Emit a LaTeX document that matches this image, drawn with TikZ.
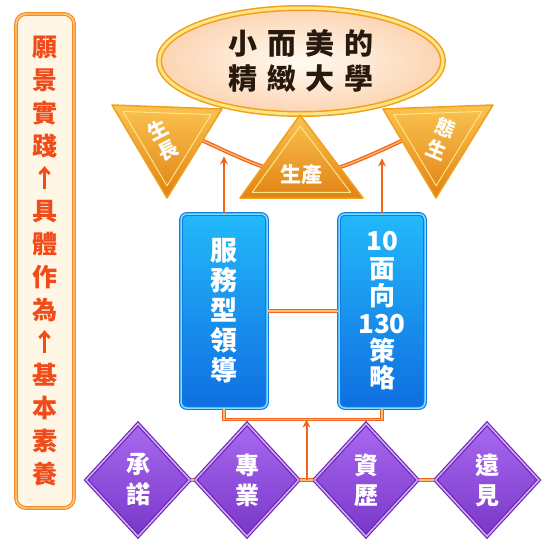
\documentclass[tikz,border=0pt]{standalone}
\usepackage{fontspec}
\setmainfont{Noto Sans CJK TC}
\newfontfamily\titlefont{Noto Sans CJK TC}[LetterSpace=34]
\usepackage{tikz}
\usetikzlibrary{positioning,calc,shapes.geometric,arrows.meta}
\definecolor{visionRed}{RGB}{240,75,25}
\definecolor{visionFill}{RGB}{255,246,230}
\definecolor{visionEdge}{RGB}{245,140,40}
\definecolor{visionLight}{RGB}{255,205,130}
\definecolor{titleIn}{RGB}{255,251,242}
\definecolor{titleOut}{RGB}{252,212,178}
\definecolor{titleText}{RGB}{40,25,15}
\definecolor{goldEdge}{RGB}{240,160,30}
\definecolor{goldLight}{RGB}{255,228,130}
\definecolor{goldTop}{RGB}{250,195,80}
\definecolor{goldBot}{RGB}{225,130,20}
\definecolor{blueTop}{RGB}{35,185,250}
\definecolor{blueBot}{RGB}{15,110,225}
\definecolor{blueEdge}{RGB}{20,120,230}
\definecolor{blueLight}{RGB}{120,225,255}
\definecolor{purpleTop}{RGB}{170,105,240}
\definecolor{purpleBot}{RGB}{120,55,200}
\definecolor{purpleEdge}{RGB}{105,40,175}
\definecolor{purpleLight}{RGB}{215,170,255}
\definecolor{linkOrange}{RGB}{240,100,30}
\definecolor{linkLight}{RGB}{255,185,110}

\tikzset{
    visionbox/.style={
        draw=visionEdge, line width=1.2pt,
        double=visionLight, double distance=1.4pt,
        fill=visionFill, rounded corners=10pt,
        minimum width=58pt, minimum height=494pt,
        align=center, text=visionRed,
        font=\bfseries\fontsize{25}{32.8}\selectfont
    },
    titlering/.style={
        ellipse, draw=goldEdge, line width=1.5pt,
        double=goldLight, double distance=3pt,
        inner color=titleIn, outer color=titleOut,
        minimum width=284pt, minimum height=106pt,
        align=center, text=titleText,
        font=\titlefont\bfseries\fontsize{29}{35}\selectfont
    },
    goldtri/.style={
        draw=goldEdge, line width=1.5pt, line join=round,
        top color=goldTop, bottom color=goldBot
    },
    goldinner/.style={draw=goldLight, line width=1pt, line join=round},
    goldtext/.style={
        align=center, text=white, inner sep=0pt,
        font=\bfseries\fontsize{20}{23}\selectfont
    },
    pillar/.style={
        draw=blueEdge, line width=1.2pt,
        double=blueLight, double distance=1.5pt,
        rounded corners=6pt,
        top color=blueTop, bottom color=blueBot,
        minimum width=86pt, minimum height=194pt,
        align=center, text=white
    },
    virtue/.style={
        diamond, draw=purpleEdge, line width=1.2pt,
        double=purpleLight, double distance=1.5pt,
        top color=purpleTop, bottom color=purpleBot,
        minimum width=104pt, minimum height=113pt, inner sep=0pt,
        align=center, text=white,
        font=\bfseries\fontsize{24}{30}\selectfont
    },
    link/.style={draw=linkOrange, line width=1pt, double=linkLight, double distance=1.3pt},
    uparrow/.style={
        draw=linkOrange, line width=2pt,
        -{Stealth[length=8pt, width=8pt]}
    }
}

\begin{document}
\begin{tikzpicture}[x=1pt, y=-1pt]
    \useasboundingbox (0,0) rectangle (560,549);

    % left column
    \node[visionbox] (vision) at (45,261)
        {願\\景\\實\\踐\\↑\\具\\體\\作\\為\\↑\\基\\本\\素\\養};

    % arc behind the triangles
    \coordinate (arcL) at (195,137);
    \coordinate (arcM) at (302,187);
    \coordinate (arcR) at (410,137);
    \draw[link, line width=1.3pt] (arcL) .. controls (arcM) .. (arcR);

    \node[titlering] (title) at (301,61) {小而美的\\精緻大學};

    % triangles
    \coordinate (gA) at (112,105);
    \coordinate (gB) at (222,109);
    \coordinate (gC) at (167,198);
    \coordinate (gM) at (167,137);
    \draw[goldtri] (gA) -- (gB) -- (gC) -- cycle;
    \draw[goldinner] ($(gM)!0.8!(gA)$) -- ($(gM)!0.8!(gB)$) -- ($(gM)!0.8!(gC)$) -- cycle;
    \node[goldtext, rotate=27] (growth) at (163,140) {生\\長};

    \coordinate (hA) at (383,109);
    \coordinate (hB) at (493,105);
    \coordinate (hC) at (436,198);
    \coordinate (hM) at (437,137);
    \draw[goldtri] (hA) -- (hB) -- (hC) -- cycle;
    \draw[goldinner] ($(hM)!0.8!(hA)$) -- ($(hM)!0.8!(hB)$) -- ($(hM)!0.8!(hC)$) -- cycle;
    \node[goldtext, rotate=-22] (ecology) at (441,139) {態\\生};

    \coordinate (pA) at (300,115);
    \coordinate (pB) at (240,198);
    \coordinate (pC) at (363,198);
    \coordinate (pM) at (301,170);
    \draw[goldtri] (pA) -- (pB) -- (pC) -- cycle;
    \draw[goldinner] ($(pM)!0.8!(pA)$) -- ($(pM)!0.8!(pB)$) -- ($(pM)!0.8!(pC)$) -- cycle;
    \node[goldtext, font=\bfseries\fontsize{21}{23}\selectfont] (produce) at (301,175) {生產};

    % blue pillars
    \node[pillar, font=\bfseries\fontsize{27}{30}\selectfont] (pillarA) at (224,311)
        {服\\務\\型\\領\\導};
    \node[pillar, font=\bfseries\fontsize{26}{27.4}\selectfont] (pillarB) at (382,311)
        {10\\面\\向\\130\\策\\略};
    \draw[link] (pillarA) -- (pillarB);

    \coordinate (hitA) at ($(pillarA.north)+(0,-57)$);
    \coordinate (hitB) at ($(pillarB.north)+(0,-55)$);
    \draw[uparrow] (pillarA.north) -- (hitA);
    \draw[uparrow] (pillarB.north) -- (hitB);

    % diamonds
    \node[virtue] (d1) at (138,480) {承\\諾};
    \node[virtue] (d2) at (247,480) {專\\業};
    \node[virtue] (d3) at (366,480) {資\\歷};
    \node[virtue] (d4) at (487,480) {遠\\見};
    \draw[link] (d1) -- (d2);
    \draw[link] (d2) -- (d3);
    \draw[link] (d3) -- (d4);

    \coordinate (merge) at ($(pillarA.south)+(0,11)$);
    \coordinate (gapMid) at ($(d2.east)!0.5!(d3.west)$);
    \draw[link] (pillarA.south) -- (merge) -| (pillarB.south);
    \draw[uparrow] (gapMid) -- (gapMid |- merge);
\end{tikzpicture}
\end{document}
